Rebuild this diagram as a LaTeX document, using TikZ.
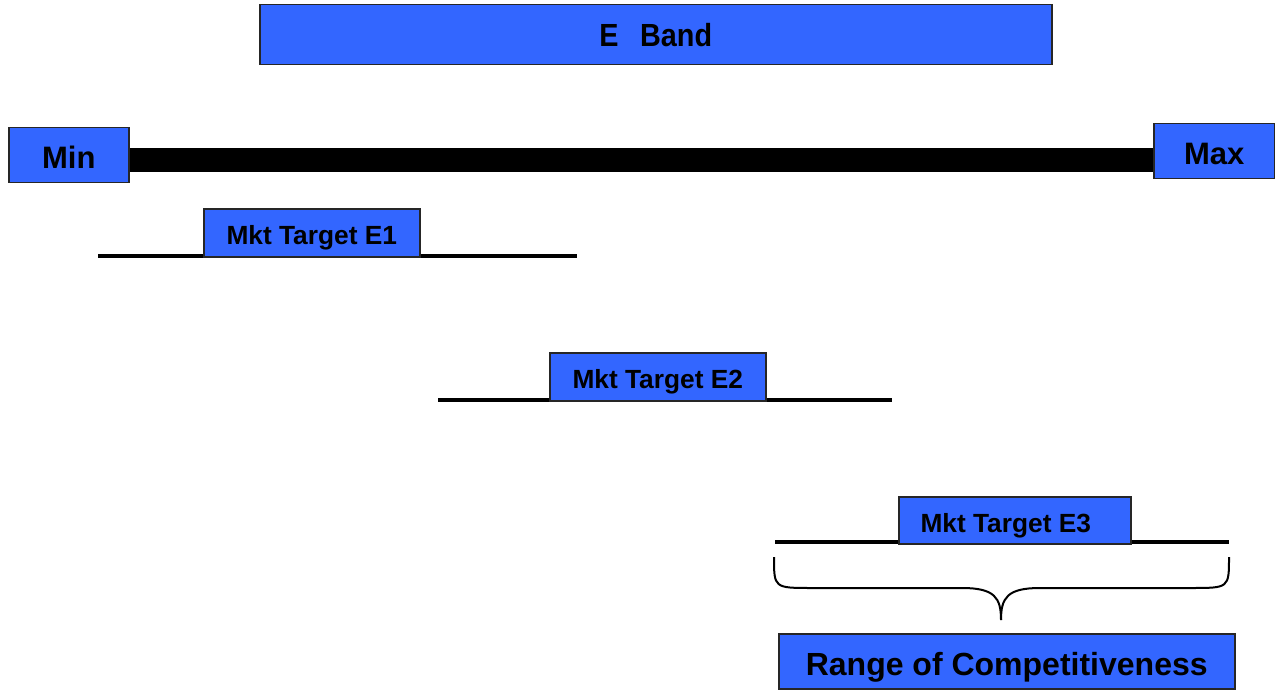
\documentclass[tikz,border=0pt]{standalone}
\usepackage{fontspec}
\setmainfont{Liberation Sans}
\definecolor{bandblue}{HTML}{3366FF}
\begin{document}
\begin{tikzpicture}[x=1pt,y=-1pt,
  bluebox/.style={draw=black!85, line width=1.5pt, fill=bandblue, inner sep=0pt, anchor=north west, text depth=0pt},
  bigtxt/.style={font=\fontsize{31}{31}\selectfont\bfseries, text height=27pt},
  bandtxt/.style={font=\fontsize{32}{32}\selectfont\bfseries, text height=23pt},
  rangetxt/.style={font=\fontsize{32}{32}\selectfont\bfseries, text height=28pt},
  midtxt/.style={font=\fontsize{26.3}{26.3}\selectfont\bfseries, text height=23.5pt},
  rangeline/.style={line width=4pt},
  bar/.style={line width=24pt},
  bracestyle/.style={line width=2pt}]
\useasboundingbox (0,0) rectangle (1275,690);
% E Band
\node[bluebox, bandtxt, minimum width=792pt, minimum height=60pt] (eband) at (259,4) {\scalebox{0.9}[1]{E\hspace{0.75em}Band}};
% thick bar
\coordinate (barL) at (128,160);
\coordinate (barR) at (1153,160);
\draw[bar] (barL) -- (barR);
\node[bluebox, bigtxt, minimum width=120pt, minimum height=55pt] (min) at (8,127) {Min};
\node[bluebox, bigtxt, minimum width=121pt, minimum height=55pt] (max) at (1153,123) {Max};
% E1
\coordinate (l1a) at (98,256);
\coordinate (l1b) at (577,256);
\draw[rangeline] (l1a) -- (l1b);
\node[bluebox, midtxt, minimum width=216pt, minimum height=48pt] (e1) at (203,208) {Mkt Target E1};
% E2
\coordinate (l2a) at (438,400);
\coordinate (l2b) at (892,400);
\draw[rangeline] (l2a) -- (l2b);
\node[bluebox, midtxt, minimum width=216pt, minimum height=48pt] (e2) at (549,352) {Mkt Target E2};
% E3
\coordinate (l3a) at (775,542);
\coordinate (l3b) at (1229,542);
\draw[rangeline] (l3a) -- (l3b);
\node[bluebox, midtxt, minimum width=232pt, minimum height=47pt] (e3) at (898,496) {\hspace{-18pt}Mkt Target E3};
% brace
\coordinate (bl) at (774,557);
\coordinate (br) at (1229,557);
\coordinate (tip) at (1001,620);
\draw[bracestyle] (bl) .. controls (774,588) and (774,588) .. (812,588) -- (962,588) .. controls (995,588) and (1001,598) .. (tip);
\draw[bracestyle] (br) .. controls (1229,588) and (1229,588) .. (1191,588) -- (1040,588) .. controls (1007,588) and (1001,598) .. (tip);
% Range
\node[bluebox, rangetxt, minimum width=456pt, minimum height=55pt] (range) at (778,633) {Range of Competitiveness};
\end{tikzpicture}
\end{document}
